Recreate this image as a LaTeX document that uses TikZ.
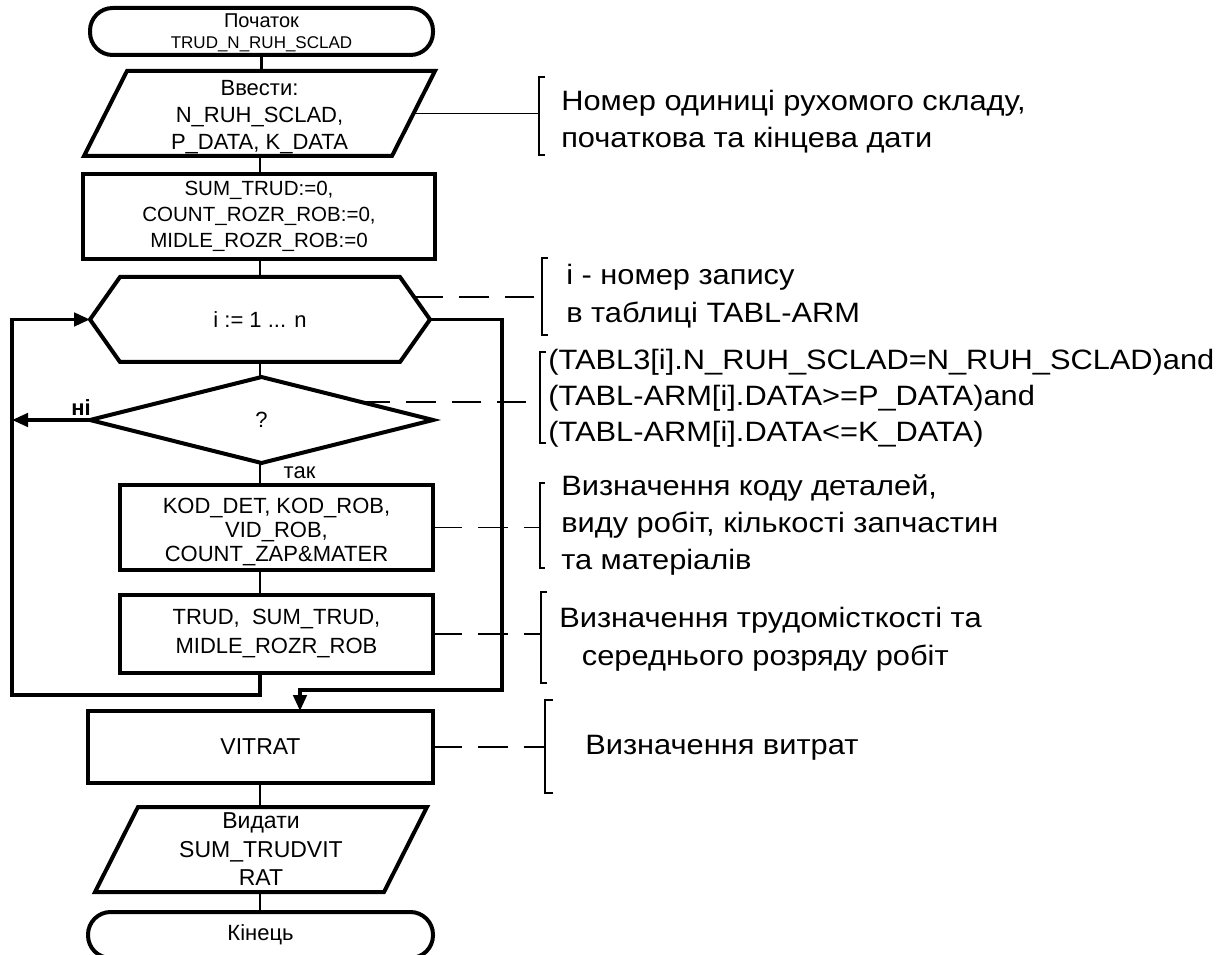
\documentclass[tikz,border=0pt]{standalone}
\usepackage{fontspec}
\setmainfont{Liberation Sans}
\newfontfamily\annfont[FakeStretch=1.1]{Liberation Sans}
\usetikzlibrary{arrows.meta,calc}
\begin{document}
\begin{tikzpicture}[x=0.75pt,y=-0.75pt,
  shp/.style={draw=none, inner sep=0pt, outer sep=0pt, align=center},
  boxs/.style={draw, line width=3pt, inner sep=0pt, outer sep=0pt, align=center},
  outl/.style={line width=3pt, line join=miter},
  conn/.style={line width=1.6pt},
  loopl/.style={line width=2.7pt, line join=miter},
  arr/.style={-{Triangle[length=12pt,width=10pt]}},
  ann/.style={line width=1.3pt},
  dashann/.style={line width=1.3pt, dash pattern=on 22pt off 12pt},
  brk/.style={line width=1.4pt},
  fA/.style={font=\fontsize{16.5}{20.25}\selectfont},
  fB/.style={font=\fontsize{15.4}{19.5}\selectfont},
  anntext/.style={font=\annfont\fontsize{21}{27.75}\selectfont, align=left, anchor=west, inner sep=0pt},
  ]
\useasboundingbox (0,0) rectangle (1231,955);
\fill[white] (0,0) rectangle (1231,955);

% ---- flowchart shapes ----
\node[boxs, rounded corners=17pt, minimum width=257.25pt, minimum height=35.25pt,
  label={[font=\fontsize{15}{15.75}\selectfont, align=center, yshift=-0.8pt]center:Початок\\{\fontsize{12.75}{15.75}\selectfont TRUD\_N\_RUH\_SCLAD}}] (start) at (261.5,31.5) {};

\node[shp, minimum width=263.25pt, minimum height=63.75pt,
  label={[fA, align=center, yshift=-2.5pt]center:Ввести:\\N\_RUH\_SCLAD,\\P\_DATA, K\_DATA}] (in) at (259.5,113.5) {};
\draw[outl] ($(in.north west)+(43,0)$) -- (in.north east) -- ($(in.south east)+(-43,0)$) -- (in.south west) -- cycle;

\node[boxs, minimum width=264pt, minimum height=63.75pt, fB] (init) at (259,216.5)
  {SUM\_TRUD:=0,\\COUNT\_ROZR\_ROB:=0,\\MIDLE\_ROZR\_ROB:=0};

\node[shp, minimum width=255pt, minimum height=63.75pt, fA] (hex) at (260,319.5) {i := 1 ... n};
\coordinate (hexne) at ($(hex.north east)+(-30,0)$);
\draw[outl] (hex.west) -- ($(hex.north west)+(30,0)$) -- (hexne) -- (hex.east)
  -- ($(hex.south east)+(-30,0)$) -- ($(hex.south west)+(30,0)$) -- cycle;

\node[shp, minimum width=257.25pt, minimum height=64.5pt, fA] (dia) at (261.5,420) {?};
\draw[outl] (dia.north) -- (dia.east) -- (dia.south) -- (dia.west) -- cycle;

\node[boxs, minimum width=234.75pt, minimum height=63.75pt,
  label={[font=\fontsize{16.5}{18}\selectfont, align=center, yshift=-3.5pt]center:KOD\_DET, KOD\_ROB,\\VID\_ROB,\\COUNT\_ZAP\&MATER}] (kod) at (276.5,527.5) {};

\node[boxs, minimum width=234.75pt, minimum height=58.5pt, font=\fontsize{16.5}{21.75}\selectfont] (trud) at (276.5,634)
  {TRUD,\ \ SUM\_TRUD,\\MIDLE\_ROZR\_ROB};

\node[boxs, minimum width=258.75pt, minimum height=54pt, font=\fontsize{17.25}{20}\selectfont] (vitrat) at (260.5,747) {VITRAT};

\node[shp, minimum width=249pt, minimum height=63.75pt, font=\fontsize{17.25}{21.4}\selectfont] (out) at (261,849.5)
  {Видати\\SUM\_TRUDVIT\\RAT};
\draw[outl] ($(out.north west)+(43,0)$) -- (out.north east) -- ($(out.south east)+(-43,0)$) -- (out.south west) -- cycle;

\node[boxs, rounded corners=17pt, minimum width=258.75pt, minimum height=34.5pt, font=\fontsize{16.5}{20}\selectfont] (end) at (260.5,935) {Кінець};

% ---- main connectors ----
\draw[conn] (start.south) -- (start.south |- in.north);
\draw[conn] (hex.south |- in.south) -- (hex.south |- init.north);
\draw[conn] (hex.south |- init.south) -- (hex.north);
\draw[conn] (hex.south) -- (hex.south |- dia.north);
\draw[conn] (hex.south |- dia.south) -- (hex.south |- kod.north)
  node[pos=0.42, right=17pt, inner sep=0pt, font=\fontsize{16.5}{20}\selectfont] (yes) {так};
\draw[conn] (hex.south |- kod.south) -- (hex.south |- trud.north);
\draw[conn] (hex.south |- vitrat.south) -- (hex.south |- out.north);
\draw[conn] (hex.south |- out.south) -- (hex.south |- end.north);

% ---- loop ----
\coordinate (lb) at (12,695);
\coordinate (rx) at (502,690);
\coordinate (ent) at (300,711);
\draw[loopl, arr] (hex.south |- trud.south) -- (hex.south |- lb) -- (lb) |- (hex.west);
\draw[loopl, arr] (dia.west) -- (dia.west -| lb);
\node[font=\bfseries\fontsize{16.5}{20}\selectfont, inner sep=0pt] (no) at (81,408) {ні};
\draw[loopl, arr] (hex.east) -| (rx) -| (ent);

% ---- annotations ----
% 1
\coordinate (b1) at (539,116);
\draw[brk] (545,77) -- (539,77) -- (539,155) -- (545,155);
\coordinate (inr) at ($(in.north east)!0.5!(in.south east)+(-21.5,0)$);
\draw[ann] (inr) -- (inr -| b1);
\node[anntext] (t1) at (561,121.5) {Номер одиниці рухомого складу,\\початкова та кінцева дати};
% 2
\coordinate (b2) at (542,297);
\draw[brk] (548,258) -- (542,258) -- (542,335) -- (548,335);
\coordinate (hexr) at ($(hexne)!0.47!(hex.east)$);
\draw[dashann] (hexr) -- (hexr -| b2);
\node[anntext, font=\annfont\fontsize{21}{28.5}\selectfont] (t2) at (566,296) {i - номер запису\\в таблиці TABL-ARM};
% 3
\coordinate (b3) at (540,402);
\draw[brk] (546,352) -- (540,352) -- (540,443) -- (546,443);
\coordinate (diar) at ($(dia.north)!0.58!(dia.east)$);
\draw[dashann] (diar) -- (diar -| b3);
\node[anntext, font=\annfont\fontsize{21}{27}\selectfont] (t3) at (548,398)
  {(TABL3[i].N\_RUH\_SCLAD=N\_RUH\_SCLAD)and\\(TABL-ARM[i].DATA>=P\_DATA)and\\(TABL-ARM[i].DATA<=K\_DATA)};
% 4
\coordinate (b4) at (540,528);
\draw[brk] (545,483) -- (540,483) -- (540,568) -- (545,568);
\draw[dashann] (kod.east) -- (kod.east -| b4);
\node[anntext] (t4) at (561,525) {Визначення коду деталей,\\виду робіт, кількості запчастин\\та матеріалів};
% 5
\coordinate (b5) at (541,634);
\draw[brk] (547,592) -- (541,592) -- (541,683) -- (547,683);
\draw[dashann] (trud.east) -- (trud.east -| b5);
\node[anntext, font=\annfont\fontsize{21}{28.5}\selectfont] (t5) at (559,639) {Визначення трудомісткості та\\\hspace*{17pt}середнього розряду робіт};
% 6
\coordinate (b6) at (545,747);
\draw[brk] (553,700) -- (545,700) -- (545,793) -- (553,793);
\draw[dashann] (vitrat.east) -- (vitrat.east -| b6);
\node[anntext] (t6) at (585,748) {Визначення витрат};
\end{tikzpicture}
\end{document}
